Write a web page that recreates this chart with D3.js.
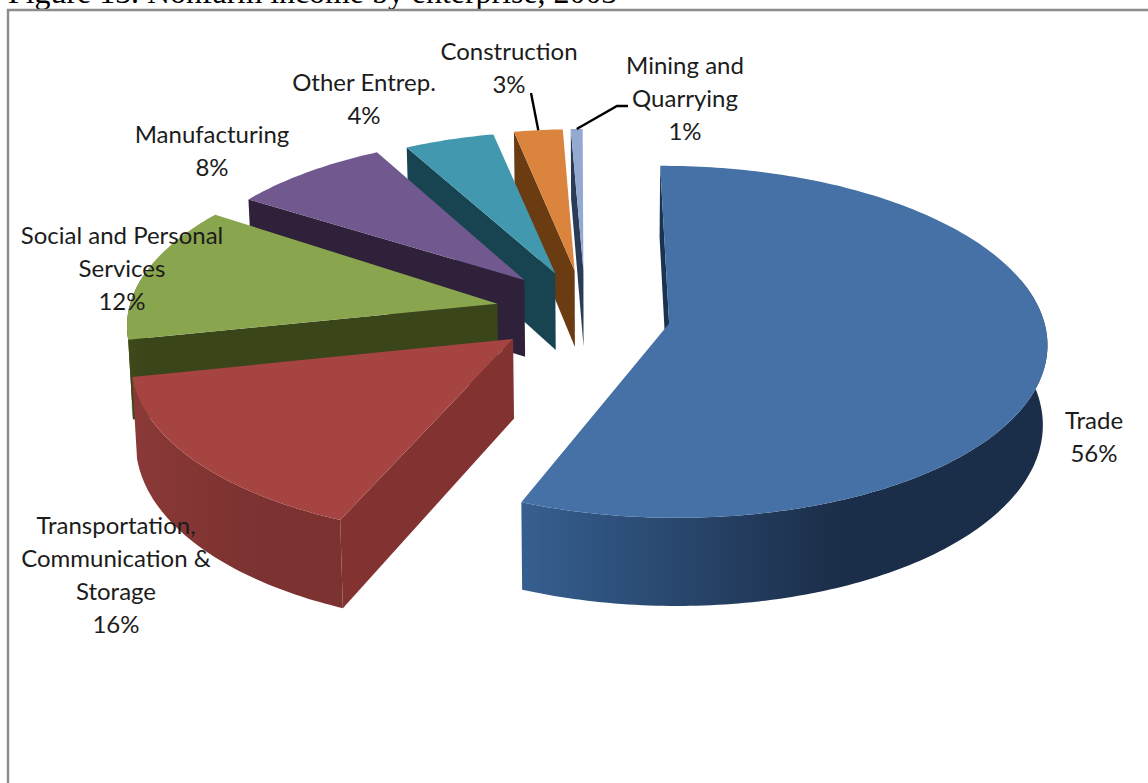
<!DOCTYPE html>
<html>
<head>
<meta charset="utf-8">
<script src="https://cdn.jsdelivr.net/npm/d3@7"></script>
<style>
  html, body { margin: 0; padding: 0; background: #fff; overflow: hidden; }
  svg { display: block; }
</style>
</head>
<body>
<svg id="chart" width="1148" height="783"></svg>
<script>
// values (slice sizes, labels show them rounded)
const sectors = ["Trade", "Transportation, Communication & Storage", "Social and Personal Services",
  "Manufacturing", "Other Entrep.", "Construction", "Mining and Quarrying"];
const shares = [56.2, 15.55, 12.4, 8.05, 4.3, 2.9, 0.6];
const labelLines = [
  ["Trade"],
  ["Transportation,", "Communication &", "Storage"],
  ["Social and Personal", "Services"],
  ["Manufacturing"],
  ["Other Entrep."],
  ["Construction"],
  ["Mining and", "Quarrying"]
];
const topColors = ["#4571a6", "#a64442", "#89a54e", "#71588f", "#4198af", "#db843d", "#93a9cf"];
const wallColors = ["#1a3350", "#823331", "#3a4519", "#2e2139", "#174450", "#6b3b12", "#2a3b57"];
const sideLight = ["#365f90", "#8a3937", "#3f4b1c", "#2e2139", "#174450", "#6b3b12", "#2a3b57"];
const sideDark = ["#1b2e49", "#7b3230", "#3a4519", "#2e2139", "#174450", "#6b3b12", "#2a3b57"];

const width = 1148, height = 783;
const svg = d3.select("#chart");

// perspective of the tilted pie, u/v in radius units, z in pixels down
const view = { cx: 600, rx: 376, horizon: -1337, dist: 1663, persp: 0.105, depth: 79, converge: 0.00013 };
const center = [-0.05, -0.09];
const explode = 0.22;
// hand fitting per slice: apex shift, radius, edge angle in degrees
const nudgeU = [0.018, -0.011, -0.01, -0.007, 0.005, 0.01, 0.01];
const nudgeV = [0.034, 0.022, 0, -0.02, -0.015, -0.02, -0.02];
const radius = [1, 1, 0.99, 0.955, 0.95, 0.95, 0.95];
const tweakStart = [0, 1, 0, 0, 0, 1.5, 0];
const tweakEnd = [0, 0, 1.5, 0, 1, 0, 0];

function project(u, v, z) {
  const s = 1 / (1 - view.persp * v);
  return [
    view.cx + view.rx * u * s * (1 - z * view.converge),
    view.horizon + (view.dist + z) * s
  ];
}

const rad = Math.PI / 180;
const pie = d3.pie().sort(null)
  .startAngle(-0.4 * rad)
  .endAngle(359.6 * rad);
const slices = pie(shares).map(d => ({
  index: d.index,
  value: d.value,
  mid: (d.startAngle + d.endAngle) / 2,
  startAngle: d.startAngle + tweakStart[d.index] * rad,
  endAngle: d.endAngle + tweakEnd[d.index] * rad
}));

const line = d3.line();

function apexOf(d) {
  return [
    center[0] + explode * Math.sin(d.mid) + nudgeU[d.index],
    center[1] - explode * Math.cos(d.mid) + nudgeV[d.index]
  ];
}

function rimPoint(d, a) {
  const [ax, ay] = apexOf(d);
  return [ax + radius[d.index] * Math.sin(a), ay - radius[d.index] * Math.cos(a)];
}

function arcPoints(d, a0, a1, z) {
  const n = Math.max(2, Math.ceil((a1 - a0) * 60));
  return d3.range(n + 1).map(i => {
    const p = rimPoint(d, a0 + (a1 - a0) * i / n);
    return project(p[0], p[1], z);
  });
}

// background frame
svg.append("rect").attr("width", width).attr("height", height).attr("fill", "#fff");
svg.append("text")
  .attr("x", 8).attr("y", 3)
  .style("font-family", "Liberation Serif")
  .style("font-size", "31.9px")
  .style("fill", "#000")
  .text("Figure 13. Nonfarm income by enterprise, 2003");
svg.append("path")
  .attr("d", line([[8, height + 2], [8, 10], [width + 2, 10]]))
  .attr("fill", "none").attr("stroke", "#8c8c8c").attr("stroke-width", 2.4);

const defs = svg.append("defs");
const pieG = svg.append("g").attr("class", "pie");

// back to front: last slice is the farthest one
slices.slice().reverse().forEach(d => {
  const i = d.index;
  const [ax, ay] = apexOf(d);
  const g = pieG.append("g").attr("class", "slice");
  const startPt = rimPoint(d, d.startAngle);

  // radial wall on the start edge
  g.append("path")
    .attr("d", line([
      project(ax, ay, 0), project(startPt[0], startPt[1], 0),
      project(startPt[0], startPt[1], view.depth), project(ax, ay, view.depth)
    ]) + "Z")
    .attr("fill", wallColors[i]);

  // outer rim, only the part turned toward the viewer
  const a0 = Math.max(d.startAngle, 75 * rad);
  const a1 = Math.min(d.endAngle, 280 * rad);
  if (a1 > a0) {
    const rim = arcPoints(d, a0, a1, 0).concat(arcPoints(d, a0, a1, view.depth).reverse());
    const id = "rim" + i;
    const xs = d3.extent(rim, p => p[0]);
    const grad = defs.append("linearGradient").attr("id", id)
      .attr("gradientUnits", "userSpaceOnUse")
      .attr("x1", xs[0]).attr("x2", xs[1]).attr("y1", 0).attr("y2", 0);
    grad.append("stop").attr("offset", 0).attr("stop-color", sideLight[i]);
    grad.append("stop").attr("offset", 0.6).attr("stop-color", sideDark[i]);
    g.append("path").attr("d", line(rim) + "Z").attr("fill", `url(#${id})`);
  }

  // top face
  g.append("path")
    .attr("d", line([project(ax, ay, 0)].concat(arcPoints(d, d.startAngle, d.endAngle, 0))) + "Z")
    .attr("fill", topColors[i]);
});

// leader lines for the two thin slices
function rimMid(i) {
  const d = slices[i];
  const p = rimPoint(d, (d.startAngle + d.endAngle) / 2);
  return project(p[0], p[1], 0);
}
const leader = svg.append("g").attr("fill", "none").attr("stroke", "#000").attr("stroke-width", 2.4);
leader.append("path").attr("d", line([[531, 93], rimMid(5)]));
leader.append("path").attr("d", line([[628, 106], [617, 106], rimMid(6)]));

// labels
const labelAt = [[1094, 421], [116, 526], [122, 236], [212, 135], [364, 83], [509, 52], [685, 66]];
const pct = d3.format(".0f");
const labelG = svg.append("g")
  .attr("text-anchor", "middle")
  .style("font-family", "Lato")
  .style("font-size", "24px")
  .style("fill", "#1c1c1c");
sectors.forEach((name, i) => {
  const rows = labelLines[i].concat(pct(shares[i]) + "%");
  rows.forEach((row, j) => {
    labelG.append("text")
      .attr("x", labelAt[i][0])
      .attr("y", labelAt[i][1] + j * 32.7)
      .attr("dy", "0.35em")
      .text(row);
  });
});
</script>
</body>
</html>
